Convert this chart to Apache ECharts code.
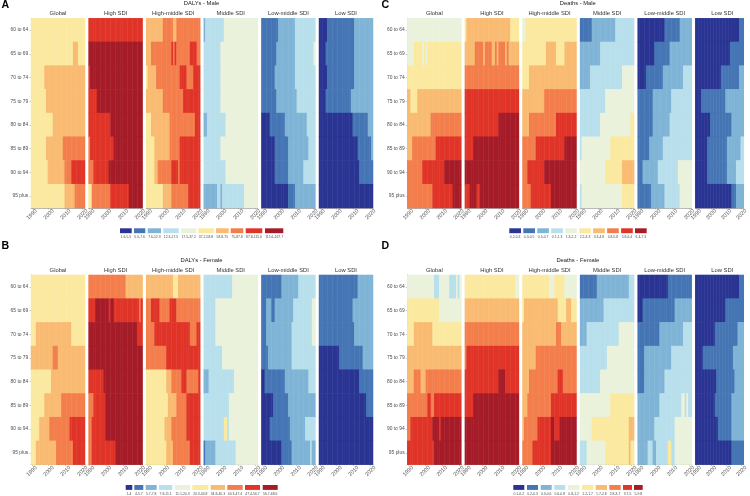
<!DOCTYPE html>
<html>
<head>
<meta charset="utf-8">
<style>html,body{margin:0;padding:0;background:#fff}#c{width:750px;height:496px}</style>
<script src="https://cdn.jsdelivr.net/npm/echarts@6/dist/echarts.min.js"></script>
</head>
<body>
<div id="c"></div>
<script>
const years = [1990,1991,1992,1993,1994,1995,1996,1997,1998,1999,2000,2001,2002,2003,2004,2005,2006,2007,2008,2009,2010,2011,2012,2013,2014,2015,2016,2017,2018,2019,2020,2021];
const ages = ['60 to 64','65 to 69','70 to 74','75 to 79','80 to 84','85 to 89','90 to 94','95 plus'];
const facets = ['Global','High SDI','High-middle SDI','Middle SDI','Low-middle SDI','Low SDI'];
const classColors = ['#2A3492','#4575B4','#7FB4D6','#B8DFEC','#EAF2DC','#FBE9A0','#F9BB72','#F37E4C','#E03428','#A51C28'];

// Each row reads "first class, then year:class at each change", one row per age group.
const dalysMaleGlobal = ['6','6 2015:7 2018:6','6 1998:7','6 1999:7','6 2003:7','6 1999:7 2009:8','6 2000:7 2010:8 2014:9','6 2010:7 2016:8'];
const dalysMaleHigh = ['9','10','9 1991:10','9 1995:10','9 2003:10','8 1991:9 2005:10','8 1993:9 2002:10','6 1992:8 2003:9 2014:10'];
const dalysMaleHighMiddle = ['7 2000:8 2006:7 2008:8','7 1993:8 2005:9 2006:8 2007:9 2008:8 2016:9 2020:8','6 1991:7 1996:8 2010:9 2014:8 2018:9','7 2000:8 2012:9','6 1993:7 2004:8 2019:9','6 1995:7 2004:8 2010:9','6 1995:7 1997:8 2005:9 2009:8 2010:9','6 2000:7 2005:8 2015:9'];
const dalysMaleMiddle = ['3 1991:4 2002:5','4 2000:5','4 2000:5','4 2000:5','3 1992:4 2003:5','4 2000:5','4 2003:5','3 1998:4 2000:3 2001:4 2014:5'];
const dalysMaleLowMiddle = ['2 2000:3 2010:4','2 1999:3 2010:4 2021:5','2 1998:3 2010:4','2 1999:3 2011:4','1 1995:2 2004:3 2017:4','1 1998:2 2006:3 2018:4','1 1998:2 2006:3 2015:4','1 2006:2 2010:3'];
const dalysMaleLow = ['1 1995:2 2011:3','1 1994:2 2011:3','1 1995:2 2011:3','1 1994:2 2009:3','1 2010:2 2019:3','1 2013:2 2021:3','1 2014:2','1'];

const dalysFemaleGlobal = ['6','6','6 1993:7 2014:6','7 2003:8 2006:7','6 2002:7','6 1998:7 2008:8','6 1995:7 2001:8 2013:9','6 1993:7 2005:8 2015:9'];
const dalysFemaleHigh = ['8 2012:7','9 1994:10 2002:9 2003:10 2005:9 2020:8 2021:9','10 2019:9','10','9 1999:10','8 1993:9 2000:10','8 1992:9 2000:10','8 1992:9 2006:10'];
const dalysFemaleHighMiddle = ['7 2006:6 2009:7','8 1993:9 1998:8 2004:9 2008:8','8 1995:9 2016:8 2020:9','8 2002:9','6 2002:7 2005:8 2011:9 2014:8 2021:9','6 2003:7 2008:8 2014:9','6 2001:7 2005:8 2014:9','6 2002:7 2006:8 2016:9'];
const dalysFemaleMiddle = ['4 2007:5','4 1997:5','4 1997:5','4 2001:5','3 1993:4 2008:5','4 2005:5','4 2002:6 2004:4 2005:5','2 1991:3 1997:4 2009:5'];
const dalysFemaleLowMiddle = ['2 2002:3 2012:4','2 1993:3 1996:2 1998:3 2009:4 2020:5','2 1993:3 2008:4 2020:5','2 1994:3 2008:4','1 1992:2 2004:3 2018:4','1 1997:2 2006:3','1 1995:2 2007:3 2016:4','1 2002:2 2008:3 2019:4 2020:3'];
const dalysFemaleLow = ['2 2013:3','2 2010:3','2 2011:3','1 2002:2 2016:3','1 2014:2','1 2018:2','1','1'];

const deathsMaleGlobal = ['5','5 1994:6 1999:5 2000:6 2001:5 2002:6','6','7 1992:6 1996:7','7 2004:8','7 1993:8 2007:9','8 1999:9 2012:10','8 2005:9 2017:10'];
const deathsMaleHigh = ['6 1991:7 2017:6','7 1996:8 2001:7 2002:8 2006:7 2008:8 2009:7 2010:8 2014:7 2015:8 2016:7','8','9','9 2010:10','9 1995:10','10','9 1993:10 1997:9 1999:10'];
const deathsMaleHighMiddle = ['5 1992:6','6 2004:7 2010:6 2015:7','6 1994:7','7 2003:8','7 1994:8 2010:9','8 1998:9 2015:10','8 1993:9 2003:10','8 1995:9 2007:10'];
const deathsMaleMiddle = ['2 1997:3 2011:4','3 2002:4','3 1996:4 2015:5','4 2005:5','4 2002:5 2020:6','4 1991:5 2008:6','5 2005:6 2015:7','4 1991:5 2015:6'];
const deathsMaleLowMiddle = ['1 2006:2 2015:3','1 2000:2 2009:3','1 1995:2 2005:3 2017:4','2 1999:3 2010:4','2 1999:3 2009:4','2 1997:3 2005:4','2 1993:3 2002:4 2014:5','2 1998:3 2006:4 2015:5'];
const deathsMaleLow = ['1 2019:2','1 2013:2','1 2007:2 2019:3','1 1994:2 2010:3','1 2000:2 2014:3','1 1998:2 2011:3 2020:4','1 1998:2 2011:3 2017:4','1 2014:2 2017:3'];

const deathsFemaleGlobal = ['5 2006:4 2009:5 2015:4 2019:5 2020:4 2021:5','6 2009:5','6 1994:7 2005:6','7','7 1994:8 1998:7 2001:8','8 2002:9 2004:8 2006:9','8 1992:9 2005:10 2009:9 2010:10','9 2006:10'];
const deathsFemaleHigh = ['6 2020:5','7','8','8 1991:9','9 2010:10 2014:9','9 1995:10','10','10'];
const deathsFemaleHighMiddle = ['6 2006:5 2009:6 2015:5','6 1991:7 2011:6 2016:7 2019:6','7 2010:8 2013:7','7 1998:8','7 1994:8 2011:9 2014:8','7 1993:8 2007:9','7 1991:8 1999:9 2007:10 2009:9 2012:10','8 1996:9 2007:10'];
const deathsFemaleMiddle = ['2 2000:3 2019:4','3 2004:4','3 1994:4 2013:5','4 2006:5','4 2002:5','5 2008:6','5 1997:6 2019:7','4 1994:5 2005:6 2019:7 2020:6'];
const deathsFemaleLowMiddle = ['1 2008:2','1 1993:2 2012:3','2 2003:3 2017:4','2 1994:3 2010:4','2 1994:3 2006:4','3 2003:4 2016:5 2018:4 2019:5 2020:4','3 2000:4 2012:5','3 1996:4 1999:3 2001:4 2008:6 2010:4 2012:5'];
const deathsFemaleLow = ['1 2019:2','1 2010:2','1 2003:2 2018:3','1 1995:2 2015:3','1 2004:2 2016:3','1 2003:2 2014:3','1 2005:2 2014:3','1 2014:2'];

const legendDalysMale = ['1.6-5.5','5.5-7.6','7.6-12.3','12.3-17.5','17.5-37.2','37.2-58.8','58.8-75','75-87.8','87.8-115.6','115.6-167.7'];
const legendDalysFemale = ['1-4','4-5.7','5.7-7.8','7.8-11.1','11.1-20.3','20.3-34.8','34.8-40.3','40.3-47.4','47.4-56.7','56.7-68.6'];
const legendDeathsMale = ['0.2-0.3','0.3-0.5','0.5-0.7','0.7-1.3','1.3-2.2','2.2-3.3','3.3-4.8','4.8-5.8','5.8-6.4','6.4-7.3'];
const legendDeathsFemale = ['0.1-0.2','0.2-0.3','0.3-0.6','0.6-0.8','0.8-1.2','1.2-1.7','1.7-2.8','2.8-3.7','3.7-5','5-9.8'];

const FONT = '"Liberation Sans", Arial, sans-serif';
const panels = [
  {letter:'A', title:'DALYs - Male', rows:[dalysMaleGlobal,dalysMaleHigh,dalysMaleHighMiddle,dalysMaleMiddle,dalysMaleLowMiddle,dalysMaleLow], legend:legendDalysMale,
   left:31, top:18.3, letterX:1.5, letterY:0, titleY:0.5, stripY:10.3, legY:228.3,
   legX:[120,134,147.7,163.3,181,198.3,216,230.7,245.7,265], legE:[131.7,145.3,161,178.7,196.3,213.7,228.7,243.3,262.3,283.3]},
  {letter:'B', title:'DALYs - Female', rows:[dalysFemaleGlobal,dalysFemaleHigh,dalysFemaleHighMiddle,dalysFemaleMiddle,dalysFemaleLowMiddle,dalysFemaleLow], legend:legendDalysFemale,
   left:31, top:275, letterX:1.5, letterY:241, titleY:257, stripY:267, legY:485,
   legX:[125.7,134.3,145.7,159,175,192.3,210.7,227.3,245,262.7], legE:[132.3,143.3,156.7,172.3,190,208.3,225,242.7,260,277.7]},
  {letter:'C', title:'Deaths - Male', rows:[deathsMaleGlobal,deathsMaleHigh,deathsMaleHighMiddle,deathsMaleMiddle,deathsMaleLowMiddle,deathsMaleLow], legend:legendDeathsMale,
   left:407.3, top:18.3, letterX:381.5, letterY:0, titleY:0.5, stripY:10.3, legY:228.3,
   legX:[509.3,523.3,537.3,551.2,565.2,579.2,593.1,607.1,621.1,635], legE:[521,535,548.9,562.9,576.9,590.9,604.8,618.8,632.8,646.7]},
  {letter:'D', title:'Deaths - Female', rows:[deathsFemaleGlobal,deathsFemaleHigh,deathsFemaleHighMiddle,deathsFemaleMiddle,deathsFemaleLowMiddle,deathsFemaleLow], legend:legendDeathsFemale,
   left:407.3, top:275, letterX:381.5, letterY:241, titleY:257, stripY:267, legY:485,
   legX:[513.3,527,540.7,554.3,568,582,595.7,609.3,623,634], legE:[524.3,538,551.7,565.3,579.3,593.3,607,620.7,632,642.7]}
];
const FACET_W = 54, FACET_H = 189.6, FACET_STEP = 57.6;

function expandRow(code, rowIndex) {
  const tokens = code.split(' ');
  let cls = +tokens[0];
  const changes = {};
  tokens.slice(1).forEach(t => { const p = t.split(':'); changes[+p[0]] = +p[1]; });
  return years.map((y, i) => {
    if (changes[y] !== undefined) cls = changes[y];
    return {value:[i, rowIndex, cls], itemStyle:{color:classColors[cls - 1], opacity:1}};
  });
}

const grid = [], xAxis = [], yAxis = [], series = [], title = [], graphic = [];
const axisGrey = '#8c8c8c', labelGrey = '#4d4d4d';

panels.forEach(p => {
  const midX = p.left + (FACET_STEP * 5 + FACET_W) / 2;
  title.push({text:p.letter, left:p.letterX, top:p.letterY, padding:0, textStyle:{fontFamily:FONT, fontSize:10.6, fontWeight:'bold', color:'#000'}});
  title.push({text:p.title, left:midX - 0.5, top:p.titleY, padding:0, textAlign:'center', textStyle:{fontFamily:FONT, fontSize:5.8, fontWeight:'normal', color:'#1a1a1a'}});
  p.rows.forEach((rows, f) => {
    const idx = grid.length;
    const gx = p.left + f * FACET_STEP;
    grid.push({left:gx, top:p.top, width:FACET_W, height:FACET_H, containLabel:false});
    title.push({text:facets[f], left:gx + FACET_W / 2, top:p.stripY, padding:0, textAlign:'center', textStyle:{fontFamily:FONT, fontSize:5.8, fontWeight:'normal', color:'#333'}});
    xAxis.push({type:'category', gridIndex:idx, data:years.map(String), boundaryGap:true,
      axisLine:{show:true, lineStyle:{color:axisGrey, width:0.7}},
      axisTick:{show:true, length:1.5, alignWithLabel:true, interval:9, lineStyle:{color:axisGrey, width:0.5}},
      axisLabel:{show:true, interval:9, rotate:45, align:'center', verticalAlign:'middle', margin:6.5, fontSize:5.5, fontFamily:FONT, color:labelGrey},
      splitLine:{show:false}});
    yAxis.push({type:'category', gridIndex:idx, data:ages, inverse:true, boundaryGap:true, show:f === 0,
      axisLine:{show:true, lineStyle:{color:axisGrey, width:0.7}},
      axisTick:{show:true, length:1.5, alignWithLabel:true, lineStyle:{color:axisGrey, width:0.5}},
      axisLabel:{margin:2.7, fontSize:4.9, fontFamily:FONT, color:labelGrey},
      splitLine:{show:false}});
    series.push({type:'heatmap', name:p.title + ' ' + facets[f], xAxisIndex:idx, yAxisIndex:idx,
      data:rows.flatMap(expandRow), progressive:0, silent:true, emphasis:{disabled:true}});
  });
  p.legend.forEach((label, i) => {
    const x0 = p.legX[i], x1 = p.legE[i];
    graphic.push({type:'rect', shape:{x:x0, y:p.legY, width:x1 - x0, height:4.9}, style:{fill:classColors[i]}, silent:true});
    graphic.push({type:'text', style:{x:(x0 + x1) / 2, y:p.legY + 8.9, text:label, font:'3.4px ' + FONT, fill:'#4d4d4d', textAlign:'center', textVerticalAlign:'middle'}, silent:true});
  });
});

const chart = echarts.init(document.getElementById('c'), null, {renderer:'canvas', width:750, height:496});
chart.setOption({
  backgroundColor:'#ffffff',
  animation:false,
  title, grid, xAxis, yAxis, series,
  graphic:{elements:graphic}
});
</script>
</body>
</html>
